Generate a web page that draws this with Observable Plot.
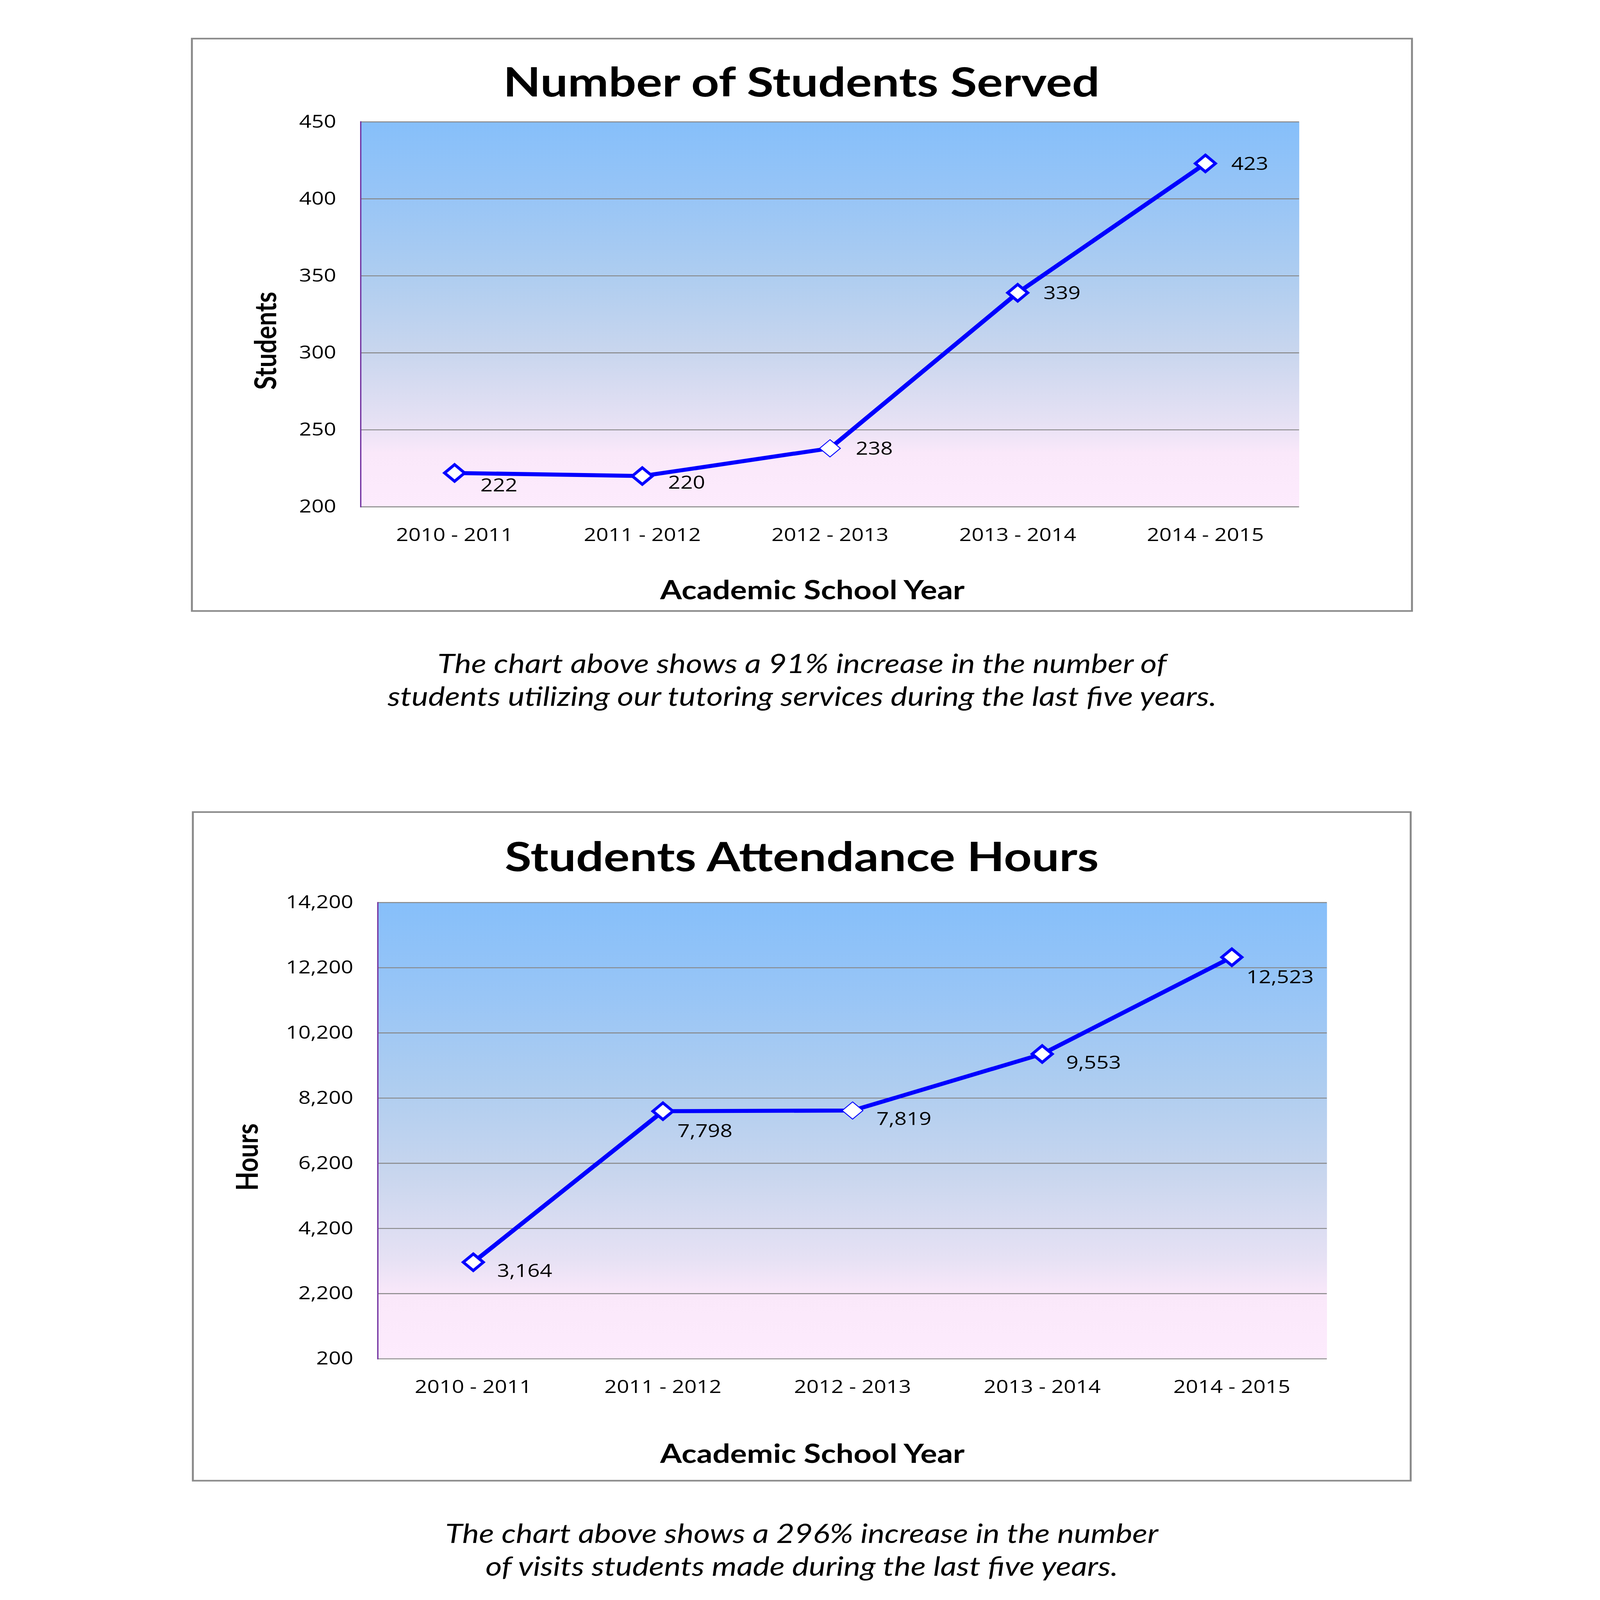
<!DOCTYPE html>
<html>
<head>
<meta charset="utf-8">
<script src="https://cdn.jsdelivr.net/npm/d3@7"></script>
<script src="https://cdn.jsdelivr.net/npm/@observablehq/plot@0.6"></script>
<style>
  html, body { margin: 0; padding: 0; background: #ffffff; overflow: hidden; }
  #page { position: absolute; left: 0; top: 0; width: 4961px; height: 5968px; transform-origin: 0 0; }
  .box { position: absolute; box-sizing: border-box; border: 6px solid #8a8a8a; }
  .abs { position: absolute; white-space: nowrap; transform: translate(-50%, -50%); color: #000; }
  .title { font-family: Lato, "Open Sans", sans-serif; font-weight: 700; font-size: 151px; }
  .axt { font-family: Lato, "Open Sans", sans-serif; font-weight: 700; font-size: 97px; }
  .axy { font-family: Lato, "Open Sans", sans-serif; font-weight: 700; font-size: 93px; }
  .rot { transform: translate(-50%, -50%) rotate(-90deg); }
  .cap { font-family: Lato, "Open Sans", sans-serif; font-style: italic; font-size: 98px; line-height: 122px; text-align: center; }
  .plot { position: absolute; }
</style>
</head>
<body>
<div id="page"></div>
<script>
// ---- data ----
const years = ["2010 - 2011", "2011 - 2012", "2012 - 2013", "2013 - 2014", "2014 - 2015"];
const studentsServed = [222, 220, 238, 339, 423];
const attendanceHours = [3164, 7798, 7819, 9553, 12523];
const studentTicks = [200, 250, 300, 350, 400, 450];
const hourTicks = [200, 2200, 4200, 6200, 8200, 10200, 12200, 14200];

const chart1Title = "Number of Students Served";
const chart2Title = "Students Attendance Hours";
const xTitle = "Academic School Year";
const y1Title = "Students";
const y2Title = "Hours";
const caption1 = ["The chart above shows a 91% increase in the number of", "students utilizing our tutoring services during the last five years."];
const caption2 = ["The chart above shows a 296% increase in the number", "of visits students made during the last five years."];

const fmt = d3.format(",");
const ns = "http://www.w3.org/2000/svg";
const page = document.getElementById("page");

// fit the 4961x5968 design onto whatever viewport the browser gives
const vw = document.documentElement.clientWidth || window.innerWidth;
const vh = document.documentElement.clientHeight || window.innerHeight;
page.style.transform = `scale(${vw / 4961}, ${vh / 5968})`;

function addDiv(cls, text, cx, cy) {
  const d = document.createElement("div");
  d.className = "abs " + cls;
  d.style.left = cx + "px";
  d.style.top = cy + "px";
  if (Array.isArray(text)) d.innerHTML = text.join("<br>"); else d.textContent = text;
  page.appendChild(d);
  return d;
}
function addBox(l, t, w, h) {
  const b = document.createElement("div");
  b.className = "box";
  Object.assign(b.style, {left: l + "px", top: t + "px", width: w + "px", height: h + "px"});
  page.appendChild(b);
}
function addGradient(svg, id) {
  const defs = document.createElementNS(ns, "defs");
  defs.innerHTML = `<linearGradient id="${id}" x1="0" y1="0" x2="0" y2="1">
    <stop offset="0" stop-color="#86BFFA"/>
    <stop offset="0.2" stop-color="#98C5F6"/>
    <stop offset="0.4" stop-color="#AECDF0"/>
    <stop offset="0.6" stop-color="#C9D6EE"/>
    <stop offset="0.78" stop-color="#E6E1F4"/>
    <stop offset="0.86" stop-color="#FAE8FA"/>
    <stop offset="1" stop-color="#FDEBFD"/>
  </linearGradient>`;
  svg.insertBefore(defs, svg.firstChild);
}

const labelFont = {fontFamily: "'Open Sans', sans-serif", fontSize: 67};

function makeChart({values, ticks, domain, gid, left, top, width, height, mL, mR, mT, mB, labelMarks}) {
  const data = years.map((y, i) => ({year: y, value: values[i], i}));
  const svg = Plot.plot({
    width, height,
    marginLeft: mL, marginRight: mR, marginTop: mT, marginBottom: mB,
    style: {fontFamily: "'Open Sans', sans-serif", fontSize: "67px", color: "#000", background: "transparent", overflow: "visible"},
    x: {type: "point", domain: years, padding: 0.5, tickSize: 0, tickPadding: 80, label: null},
    y: {domain, ticks, tickSize: 0, tickPadding: 76, tickFormat: fmt, label: null},
    marks: [
      Plot.frame({fill: `url(#${gid})`, stroke: "none"}),
      Plot.ruleY(ticks, {stroke: "#868686", strokeWidth: 3.5}),
      Plot.frame({anchor: "left", stroke: "#7030A0", strokeWidth: 4}),
      Plot.line(data, {x: "year", y: "value", stroke: "#0000FF", strokeWidth: 15, strokeLinejoin: "round"}),
      Plot.dot(data.filter(d => d.i !== 2), {x: "year", y: "value", symbol: "diamond2", r: 28, fill: "#ffffff", stroke: "#0000FF", strokeWidth: 10}),
      Plot.dot(data.filter(d => d.i === 2), {x: "year", y: "value", symbol: "diamond2", r: 29, fill: "#ffffff", stroke: "#0000FF", strokeWidth: 3}),
      ...labelMarks(data)
    ]
  });
  addGradient(svg, gid);
  svg.classList.add("plot");
  svg.style.left = left + "px";
  svg.style.top = top + "px";
  page.appendChild(svg);
}

const label = (rows, dx, dy) => Plot.text(rows, {x: "year", y: "value", text: d => fmt(d.value), textAnchor: "start", dx, dy, fill: "#000", ...labelFont});

// ---- chart 1 ----
addBox(592, 141, 3789, 2141);
addDiv("title", chart1Title, 2485, 301);
makeChart({
  values: studentsServed, ticks: studentTicks, domain: [200, 450], gid: "g1",
  left: 592, top: 141, width: 3789, height: 2141,
  mL: 526, mR: 353, mT: 313, mB: 392,
  labelMarks: (data) => [
    label(data.filter(d => d.i === 0), 80, 48),
    label(data.filter(d => d.i === 1), 80, 25),
    label(data.filter(d => d.i >= 2), 80, 3)
  ]
});
addDiv("axt", xTitle, 2519, 2198);
addDiv("axy rot", y1Title, 820, 1271);
addDiv("cap", caption1, 2487, 2534);

// ---- chart 2 ----
addBox(595, 3026, 3782, 2500);
addDiv("title", chart2Title, 2486, 3190);
makeChart({
  values: attendanceHours, ticks: hourTicks, domain: [200, 14200], gid: "g2",
  left: 595, top: 3026, width: 3782, height: 2500,
  mL: 576, mR: 263, mT: 340, mB: 458,
  labelMarks: (data) => [
    label(data.filter(d => d.i === 1 || d.i === 4), 45, 75),
    label(data.filter(d => d.i !== 1 && d.i !== 4), 74, 33)
  ]
});
addDiv("axt", xTitle, 2519, 5419);
addDiv("axy rot", y2Title, 763, 4316);
addDiv("cap", caption2, 2486, 5778);
</script>
</body>
</html>
